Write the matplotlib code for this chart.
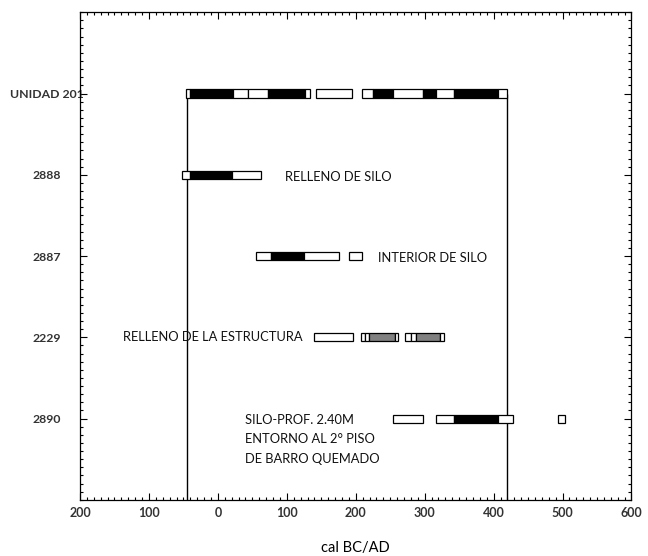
import matplotlib.pyplot as plt
from matplotlib.ticker import MultipleLocator

plt.rcParams['font.family'] = ['Lato', 'DejaVu Sans']

# muestras (de arriba hacia abajo)
muestras = ['UNIDAD 201', '2888', '2887', '2229', '2890']
filas = [1, 2, 3, 4, 5]

# tramos calibrados: (inicio, fin, tipo)  tipo 0 = 2 sigma, 1 = 1 sigma, 2 = gris
tramos_201 = [(-46, -41, 0), (-41, 22, 1), (22, 43, 0), (43, 72, 0), (72, 126, 1), (126, 133, 0),
              (143, 194, 0),
              (209, 225, 0), (225, 254, 1), (254, 297, 0), (297, 316, 1), (316, 342, 0),
              (342, 406, 1), (406, 419, 0)]
tramos_2888 = [(-52, -41, 0), (-41, 20, 1), (20, 62, 0)]
tramos_2887 = [(55, 77, 0), (77, 125, 1), (125, 175, 0), (190, 209, 0)]
tramos_2229 = [(139, 196, 0),
               (207, 213, 0), (213, 219, 0), (219, 257, 2), (257, 261, 0),
               (272, 280, 0), (280, 288, 0), (288, 322, 2), (322, 328, 0)]
tramos_2890 = [(254, 297, 0), (316, 342, 0), (342, 406, 1), (406, 428, 0), (494, 503, 0)]
tramos = [tramos_201, tramos_2888, tramos_2887, tramos_2229, tramos_2890]

# limites del intervalo de la unidad
limites = [-45, 420]

xticks = [-200, -100, 0, 100, 200, 300, 400, 500, 600]
xtick_labels = ['200', '100', '0', '100', '200', '300', '400', '500', '600']

colores = {0: 'white', 1: 'black', 2: '#808080'}

fig = plt.figure(figsize=(6.48, 5.56), dpi=100)
ax = fig.add_axes([0.1235, 0.101, 0.851, 0.877])

for fila, lista in zip(filas, tramos):
    for ini, fin, tipo in lista:
        ax.barh(fila, fin - ini, left=ini, height=0.1, color=colores[tipo],
                edgecolor='black', linewidth=0.9, zorder=3)

ax.vlines(limites, 1, 6, colors='black', linewidth=1.0, zorder=2)

txt = dict(fontsize=9.3, color='#111111')
ax.text(97, 2.03, 'RELLENO DE SILO', va='center', ha='left', **txt)
ax.text(232, 3.02, 'INTERIOR DE SILO', va='center', ha='left', **txt)
ax.text(123, 4.0, 'RELLENO DE LA ESTRUCTURA', va='center', ha='right', **txt)
ax.text(39, 4.94, 'SILO-PROF. 2.40M\nENTORNO AL 2° PISO\nDE BARRO QUEMADO',
        va='top', ha='left', linespacing=1.75, **txt)

ax.set_xlim(-200, 600)
ax.set_ylim(6, 0)
ax.set_xticks(xticks)
ax.set_xticklabels(xtick_labels)
ax.xaxis.set_minor_locator(MultipleLocator(10))
ax.set_yticks(filas)
ax.set_yticklabels(muestras)
ax.yaxis.set_minor_locator(MultipleLocator(0.1))

ax.tick_params(which='both', direction='in', top=True, right=True, width=0.8)
ax.tick_params(which='major', length=5)
ax.tick_params(which='minor', length=2)
ax.tick_params(axis='x', labelsize=9, pad=5)
ax.tick_params(axis='y', labelsize=8.8, pad=24)
for lbl in ax.get_yticklabels():
    lbl.set_horizontalalignment('center')
    lbl.set_fontweight('bold')
    lbl.set_color('#333333')
for lbl in ax.get_xticklabels():
    lbl.set_fontweight('bold')
    lbl.set_color('#333333')

for s in ax.spines.values():
    s.set_linewidth(0.9)

ax.set_xlabel('cal BC/AD', fontsize=10.5, labelpad=16)

fig.savefig('out.png', dpi=100)
